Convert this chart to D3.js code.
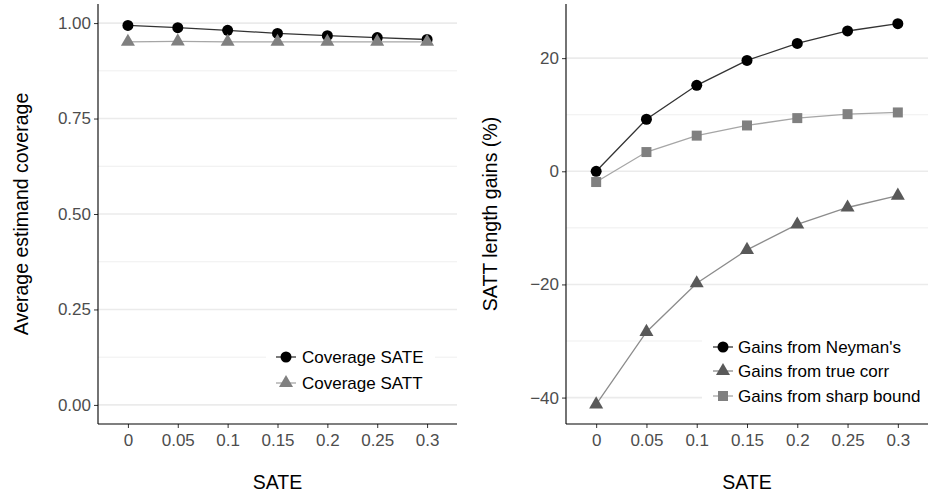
<!DOCTYPE html>
<html>
<head>
<meta charset="utf-8">
<script src="https://cdn.jsdelivr.net/npm/d3@7"></script>
<style>
  body { margin: 0; background: #fff; }
  svg { display: block; font-family: "Liberation Sans", Arial, Helvetica, sans-serif; }
  .tick text { fill: #4d4d4d; font-size: 17px; }
</style>
</head>
<body>
<svg id="chart" width="929" height="496"></svg>
<script>
// data ======================================================
var sateLevels = ["0", "0.05", "0.1", "0.15", "0.2", "0.25", "0.3"];

// left panel
var coverageSATE = [0.994, 0.988, 0.981, 0.973, 0.967, 0.962, 0.957];
var coverageSATT = [0.951, 0.952, 0.951, 0.951, 0.951, 0.951, 0.951];
var leftTicks = [0, 0.25, 0.5, 0.75, 1];
var leftTickLabels = ["0.00", "0.25", "0.50", "0.75", "1.00"];

// right panel
var gainsNeyman = [0.0, 9.2, 15.2, 19.6, 22.6, 24.8, 26.1];
var gainsTrueCorr = [-41.2, -28.4, -19.8, -13.9, -9.4, -6.4, -4.3];
var gainsSharp = [-1.9, 3.4, 6.3, 8.1, 9.4, 10.1, 10.4];
var rightTicks = [-40, -20, 0, 20];

var svg = d3.select("#chart");

// helpers ===================================================
function symbolFor(shape) {
  if (shape == "circle") return d3.symbol().type(d3.symbolCircle).size(95);
  if (shape == "triangle") return d3.symbol().type(d3.symbolTriangle).size(85);
  return d3.symbol().type(d3.symbolSquare).size(100);
}

function drawPanel(opt) {
  var g = svg.append("g");
  var x = d3.scalePoint().domain(sateLevels).range([opt.left, opt.right]).padding(0.6);
  var y = d3.scaleLinear().domain(opt.yDomain).range([424, 4]);

  // grid: minor then major
  var minor = [];
  for (var i = 0; i < opt.ticks.length - 1; i++) minor.push((opt.ticks[i] + opt.ticks[i + 1]) / 2);
  var step = opt.ticks[1] - opt.ticks[0];
  if (opt.ticks[opt.ticks.length - 1] + step / 2 < opt.yDomain[1]) minor.push(opt.ticks[opt.ticks.length - 1] + step / 2);
  if (opt.ticks[0] - step / 2 > opt.yDomain[0]) minor.push(opt.ticks[0] - step / 2);

  g.selectAll(".minor").data(minor).enter().append("line")
    .attr("x1", opt.left).attr("x2", opt.right)
    .attr("y1", function(d) { return y(d); }).attr("y2", function(d) { return y(d); })
    .attr("stroke", "#ebebeb").attr("stroke-width", 0.8);
  g.selectAll(".major").data(opt.ticks).enter().append("line")
    .attr("x1", opt.left).attr("x2", opt.right)
    .attr("y1", function(d) { return y(d); }).attr("y2", function(d) { return y(d); })
    .attr("stroke", "#ebebeb").attr("stroke-width", 1.6);

  // series
  opt.series.forEach(function(s) {
    var pts = sateLevels.map(function(l, i) { return [x(l), y(s.values[i])]; });
    g.append("path").attr("d", d3.line()(pts))
      .attr("fill", "none").attr("stroke", s.line).attr("stroke-width", 1.3);
    g.selectAll(null).data(pts).enter().append("path")
      .attr("d", symbolFor(s.shape))
      .attr("transform", function(d) { return "translate(" + d[0] + "," + d[1] + ")"; })
      .attr("fill", s.color);
  });

  // legend
  var lg = g.append("g");
  lg.append("rect").attr("x", opt.legend.x0).attr("y", opt.legend.y0)
    .attr("width", opt.legend.w).attr("height", opt.legend.h).attr("fill", "#fff");
  opt.series.forEach(function(s, i) {
    var cy = opt.legend.rows[i];
    lg.append("line").attr("x1", opt.legend.kx - 10).attr("x2", opt.legend.kx + 10)
      .attr("y1", cy).attr("y2", cy).attr("stroke", s.line).attr("stroke-width", 1.3);
    lg.append("path").attr("d", symbolFor(s.shape))
      .attr("transform", "translate(" + opt.legend.kx + "," + cy + ")").attr("fill", s.color);
    lg.append("text").attr("x", opt.legend.tx).attr("y", cy).attr("dy", "0.35em")
      .attr("font-size", 17).attr("fill", "#000").text(s.name);
  });

  // axes
  var yAxis = d3.axisLeft(y).tickValues(opt.ticks).tickSize(4).tickPadding(3)
    .tickFormat(function(d, i) { return opt.tickLabels ? opt.tickLabels[i] : d3.format("d")(d).replace("-", "\u2212"); });
  var ya = g.append("g").attr("transform", "translate(" + opt.left + ",0)").call(yAxis);
  ya.select(".domain").remove();
  ya.selectAll(".tick line").attr("stroke", "#333");
  g.append("line").attr("x1", opt.left).attr("x2", opt.left).attr("y1", 4).attr("y2", 424)
    .attr("stroke", "#000").attr("stroke-width", 1.1);

  var xAxis = d3.axisBottom(x).tickSize(4).tickPadding(6);
  var xa = g.append("g").attr("transform", "translate(0,424)").call(xAxis);
  xa.select(".domain").remove();
  xa.selectAll(".tick line").attr("stroke", "#333");
  g.append("line").attr("x1", opt.left).attr("x2", opt.right).attr("y1", 424).attr("y2", 424)
    .attr("stroke", "#000").attr("stroke-width", 1.1);

  // titles
  g.append("text").attr("x", (opt.left + opt.right) / 2).attr("y", 482).attr("dy", "0.35em")
    .attr("text-anchor", "middle").attr("font-size", 19.5).text("SATE");
  g.append("text").attr("transform", "translate(" + opt.titleX + ",214) rotate(-90)")
    .attr("dy", "0.35em").attr("text-anchor", "middle").attr("font-size", 19.5).text(opt.yTitle);
}

// main ======================================================
drawPanel({
  left: 98, right: 457,
  yDomain: [-0.05, 1.05],
  ticks: leftTicks, tickLabels: leftTickLabels,
  yTitle: "Average estimand coverage", titleX: 21,
  series: [
    { name: "Coverage SATE", values: coverageSATE, shape: "circle", color: "#000", line: "#333" },
    { name: "Coverage SATT", values: coverageSATT, shape: "triangle", color: "#808080", line: "#a6a6a6" }
  ],
  legend: { x0: 266, y0: 344, w: 169, h: 52, kx: 286, tx: 302, rows: [357, 383] }
});

drawPanel({
  left: 566, right: 928,
  yDomain: [-44.67, 29.57],
  ticks: rightTicks,
  yTitle: "SATT length gains (%)", titleX: 490,
  series: [
    { name: "Gains from Neyman's", values: gainsNeyman, shape: "circle", color: "#000", line: "#333" },
    { name: "Gains from true corr", values: gainsTrueCorr, shape: "triangle", color: "#595959", line: "#8c8c8c" },
    { name: "Gains from sharp bound", values: gainsSharp, shape: "square", color: "#808080", line: "#a6a6a6" }
  ],
  legend: { x0: 702, y0: 333, w: 227, h: 77, kx: 723, tx: 738, rows: [347, 371, 396] }
});
</script>
</body>
</html>
